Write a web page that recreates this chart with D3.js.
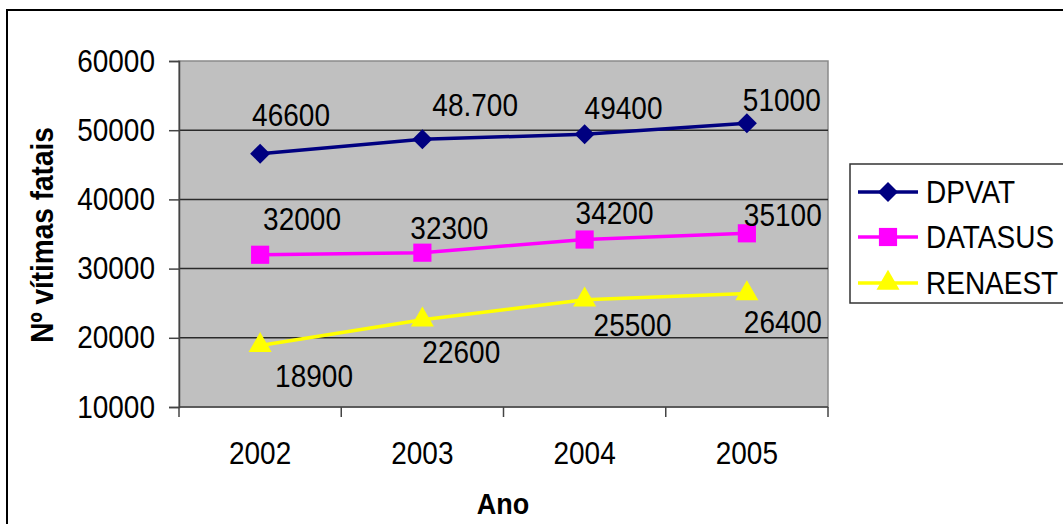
<!DOCTYPE html>
<html>
<head>
<meta charset="utf-8">
<script src="https://cdn.jsdelivr.net/npm/d3@7"></script>
<style>
  html, body { margin: 0; padding: 0; background: #fff; }
  svg { display: block; font-family: "Liberation Sans", Arial, sans-serif; }
  /* slightly tall lettering, as in the original chart export */
  svg text { transform-box: fill-box; transform-origin: center; transform: scaleY(1.12); }
</style>
</head>
<body>
<svg id="chart" width="1063" height="524"></svg>
<script>
// Years on the category axis
const years = ["2002", "2003", "2004", "2005"];

// Fatal victims per source
const dpvat   = [46600, 48700, 49400, 51000];
const datasus = [32000, 32300, 34200, 35100];
const renaest = [18900, 22600, 25500, 26400];

// Text printed next to each point
const dpvatLabels   = ["46600", "48.700", "49400", "51000"];
const datasusLabels = ["32000", "32300", "34200", "35100"];
const renaestLabels = ["18900", "22600", "25500", "26400"];

// Value axis ticks
const yTicks = [10000, 20000, 30000, 40000, 50000, 60000];

// Label placement relative to each point (dx, dy), as arranged on the chart
const labelOffsets = {
  DPVAT:   [[-8, -29], [10, -24], [0, -17], [-4, -13]],
  DATASUS: [[3, -26], [-12, -15], [-9, -17], [-3, -8]],
  RENAEST: [[15, 40], [0, 42], [9, 35], [-3, 38]]
};

const series = [
  { name: "DPVAT",   values: dpvat,   labels: dpvatLabels,   color: "#000080", symbol: d3.symbolSquare,   size: 200, rotate: 45 },
  { name: "DATASUS", values: datasus, labels: datasusLabels, color: "#FF00FF", symbol: d3.symbolSquare,   size: 330, rotate: 0 },
  { name: "RENAEST", values: renaest, labels: renaestLabels, color: "#FFFF00", symbol: d3.symbolTriangle, size: 230, rotate: 0 }
];

const svg = d3.select("#chart");
const plot = { left: 179, right: 828, top: 61, bottom: 407 };

const x = d3.scaleBand().domain(years).range([plot.left, plot.right]);
const y = d3.scaleLinear().domain([10000, 60000]).range([plot.bottom, plot.top]);
const cx = d => x(d) + x.bandwidth() / 2;

// Outer frame
svg.append("rect")
  .attr("x", 7).attr("y", 10).attr("width", 1100).attr("height", 600)
  .attr("fill", "none").attr("stroke", "#000").attr("stroke-width", 2);

// Plot background
svg.append("rect")
  .attr("x", plot.left).attr("y", plot.top)
  .attr("width", plot.right - plot.left).attr("height", plot.bottom - plot.top)
  .attr("fill", "#C0C0C0").attr("stroke", "#8a8a8a").attr("stroke-width", 1.5);

// Horizontal gridlines
svg.append("g").selectAll("line")
  .data(yTicks.filter(t => t > 10000 && t < 60000))
  .join("line")
  .attr("x1", plot.left).attr("x2", plot.right)
  .attr("y1", d => y(d)).attr("y2", d => y(d))
  .attr("stroke", "#2a2a2a").attr("stroke-width", 1.5);

// Value axis
const yAxis = svg.append("g")
  .attr("transform", `translate(${plot.left},0)`)
  .call(d3.axisLeft(y).tickValues(yTicks).tickFormat(d3.format("d")).tickSize(10).tickPadding(14));
yAxis.select(".domain").attr("stroke", "#444").attr("stroke-width", 1.5);
yAxis.selectAll(".tick line").attr("stroke", "#444").attr("stroke-width", 1.5);
yAxis.selectAll(".tick text")
  .attr("font-size", 28).attr("fill", "#000")
  .attr("font-family", "Liberation Sans, Arial, sans-serif");

// Category axis: ticks sit on the band boundaries
const xAxisG = svg.append("g").attr("transform", `translate(0,${plot.bottom})`);
xAxisG.append("line")
  .attr("x1", plot.left).attr("x2", plot.right)
  .attr("stroke", "#444").attr("stroke-width", 1.5);
const bounds = years.map(d => x(d)).concat([plot.right]);
xAxisG.selectAll("line.tk").data(bounds).join("line")
  .attr("class", "tk")
  .attr("x1", d => d).attr("x2", d => d)
  .attr("y1", 0).attr("y2", 10)
  .attr("stroke", "#444").attr("stroke-width", 1.5);
xAxisG.selectAll("text").data(years).join("text")
  .attr("x", d => cx(d)).attr("y", 56)
  .attr("text-anchor", "middle")
  .attr("font-size", 28).attr("fill", "#000")
  .text(d => d);

// Axis titles
svg.append("text")
  .attr("x", 503).attr("y", 513)
  .attr("text-anchor", "middle")
  .attr("font-size", 27).attr("font-weight", "bold")
  .text("Ano");
svg.append("g")
  .attr("transform", "translate(52,235) rotate(-90)")
  .append("text")
  .attr("text-anchor", "middle")
  .attr("font-size", 28).attr("font-weight", "bold")
  .text("Nº vítimas fatais");

// Series lines, markers and value labels
const line = d3.line().x((d, i) => cx(years[i])).y(d => y(d));

series.forEach(s => {
  const g = svg.append("g");
  g.append("path")
    .datum(s.values)
    .attr("d", line)
    .attr("fill", "none")
    .attr("stroke", s.color)
    .attr("stroke-width", 3.5);
  g.selectAll("path.mk").data(s.values).join("path")
    .attr("class", "mk")
    .attr("transform", (d, i) => `translate(${cx(years[i])},${y(d)}) rotate(${s.rotate})`)
    .attr("d", d3.symbol().type(s.symbol).size(s.size))
    .attr("fill", s.color);
  g.selectAll("text").data(s.values).join("text")
    .attr("x", (d, i) => cx(years[i]) + labelOffsets[s.name][i][0])
    .attr("y", (d, i) => y(d) + labelOffsets[s.name][i][1])
    .attr("font-size", 28).attr("fill", "#000")
    .text((d, i) => s.labels[i]);
});

// Legend
const legend = svg.append("g");
legend.append("rect")
  .attr("x", 850).attr("y", 164).attr("width", 260).attr("height", 139)
  .attr("fill", "#fff").attr("stroke", "#333").attr("stroke-width", 1.5);
const legendRows = [192, 237, 283];
series.forEach((s, i) => {
  const ly = legendRows[i];
  legend.append("line")
    .attr("x1", 858).attr("x2", 918).attr("y1", ly).attr("y2", ly)
    .attr("stroke", s.color).attr("stroke-width", 3.5);
  legend.append("path")
    .attr("transform", `translate(888,${ly}) rotate(${s.rotate})`)
    .attr("d", d3.symbol().type(s.symbol).size(s.size))
    .attr("fill", s.color);
  legend.append("text")
    .attr("x", 926).attr("y", ly + 10)
    .attr("font-size", 28).attr("fill", "#000")
    .text(s.name);
});
</script>
</body>
</html>
